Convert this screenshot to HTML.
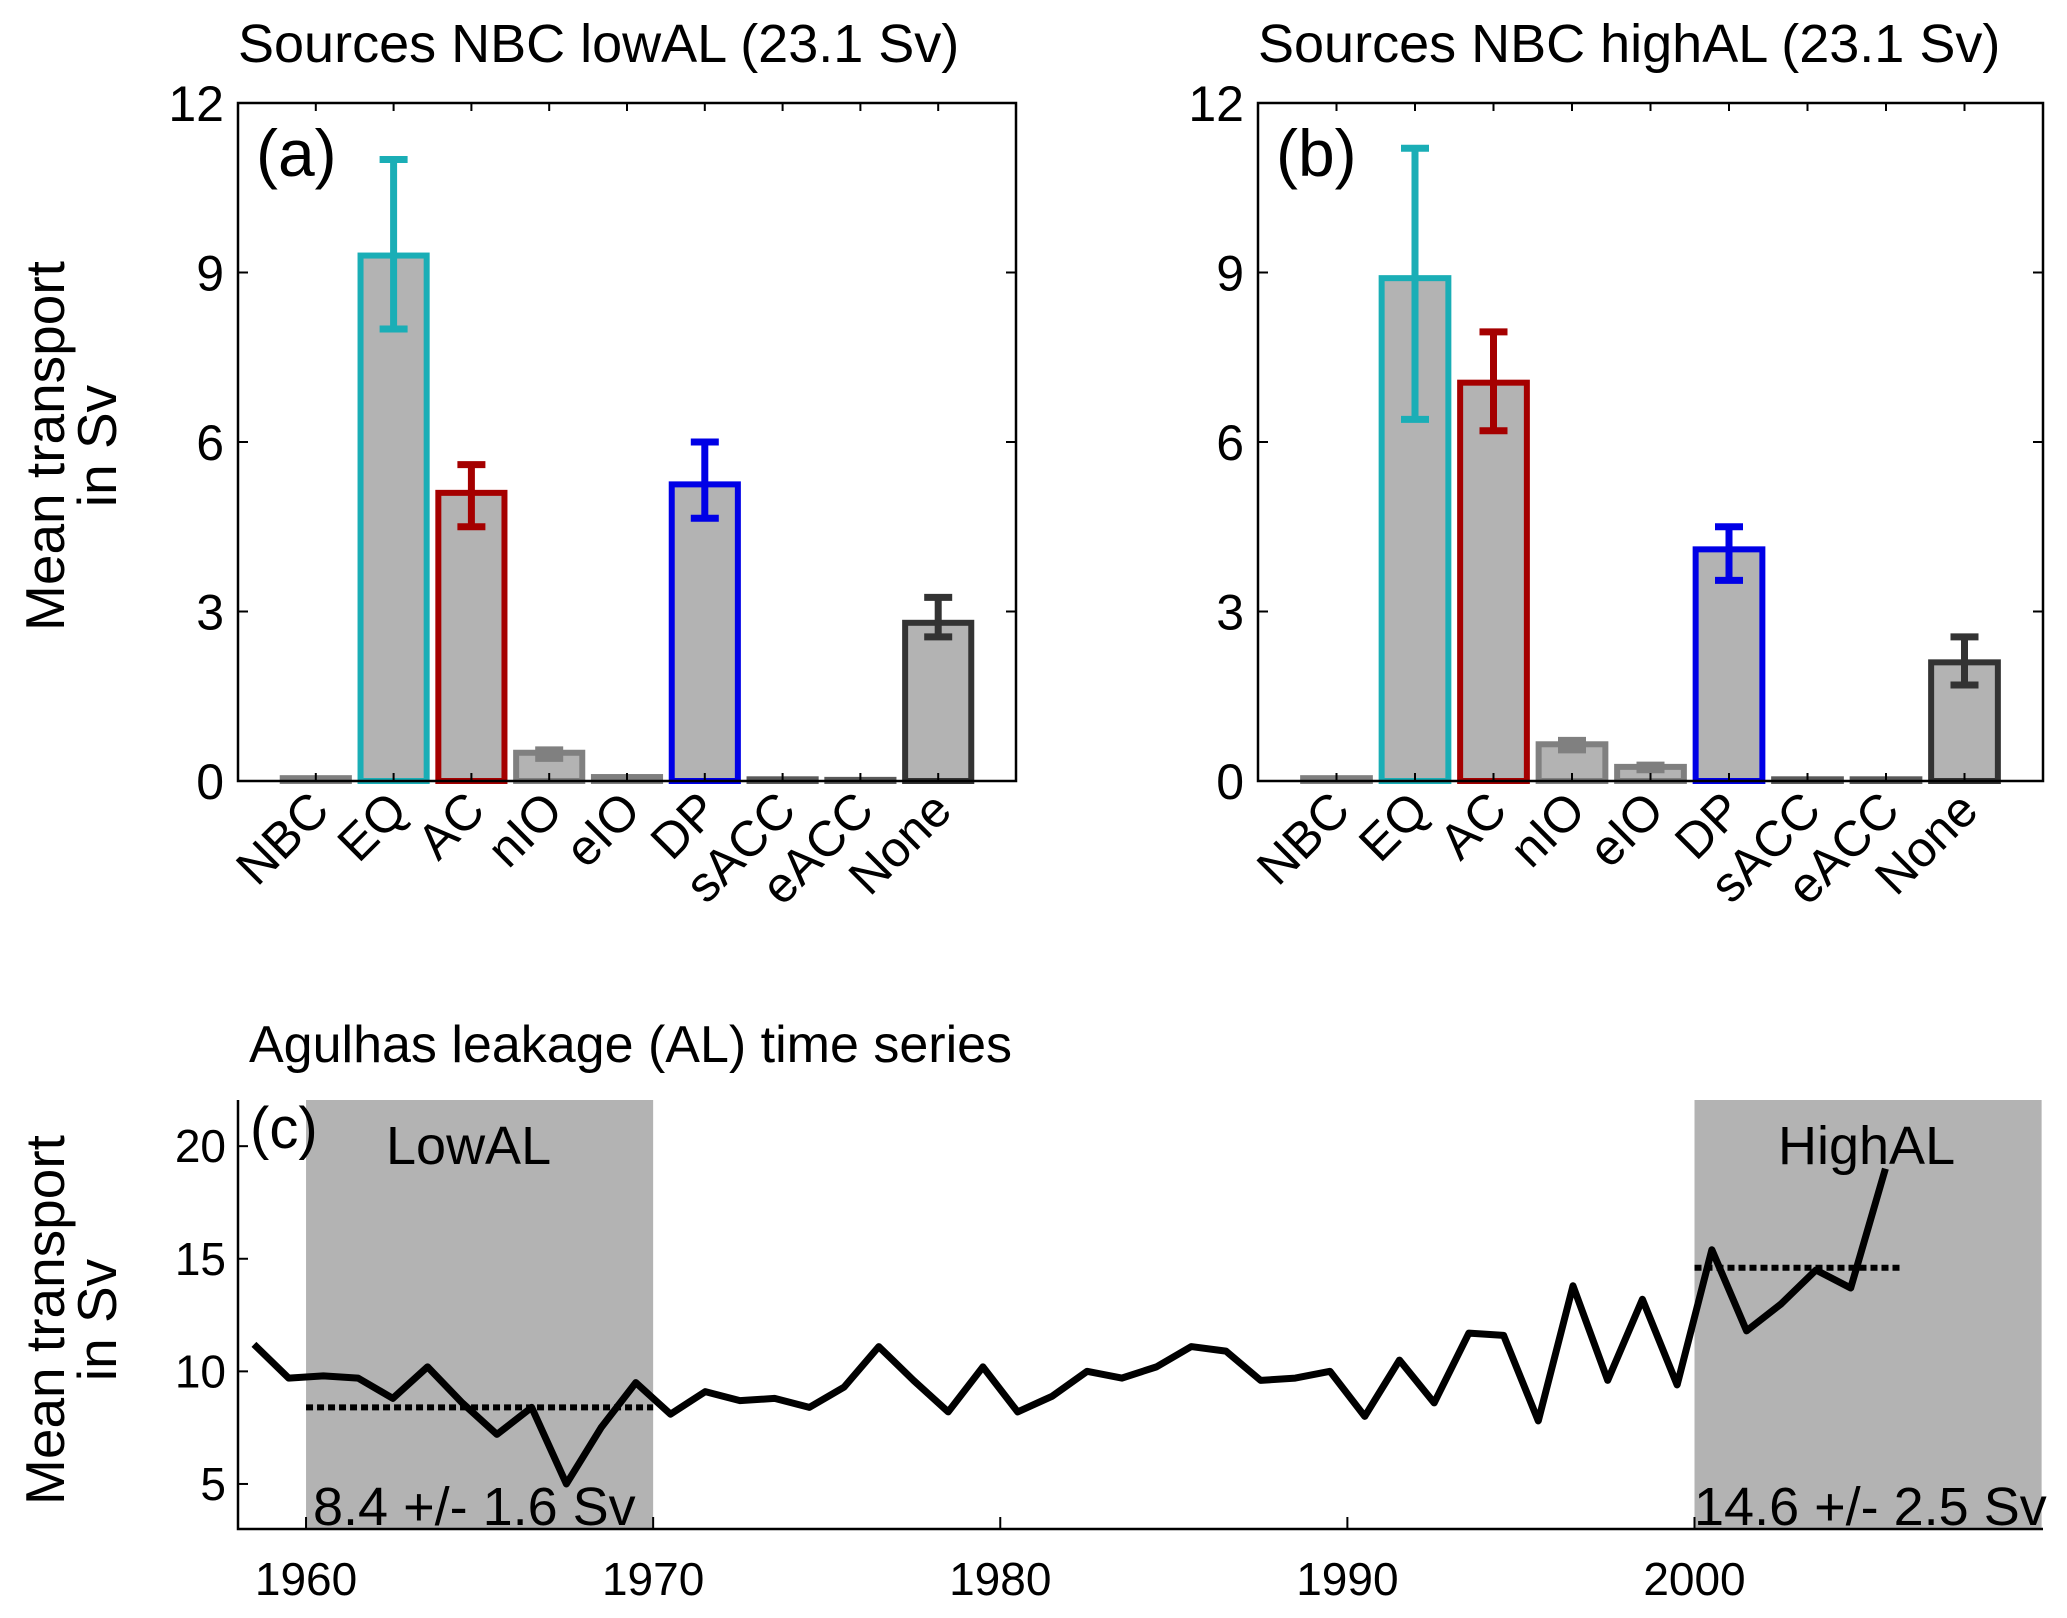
<!DOCTYPE html>
<html><head><meta charset="utf-8"><style>body{margin:0;background:#fff}svg{display:block}text{font-family:"Liberation Sans",sans-serif}</style></head>
<body>
<svg id="fig" width="2067" height="1618" viewBox="0 0 2067 1618" xmlns="http://www.w3.org/2000/svg"></svg>
<script>
const categories=["NBC","EQ","AC","nIO","eIO","DP","sACC","eACC","None"];
const colorsBar=["#7f7f7f","#1aaeb6","#a50000","#808080","#7f7f7f","#0000e6","#5a5a5a","#5a5a5a","#333333"];
const valuesA=[0.05,9.3,5.1,0.5,0.07,5.25,0.03,0.02,2.8];
const errLoA=[null,8.0,4.5,0.4,null,4.65,null,null,2.55];
const errHiA=[null,11.0,5.6,0.55,null,6.0,null,null,3.25];
const valuesB=[0.05,8.9,7.05,0.65,0.25,4.1,0.03,0.03,2.1];
const errLoB=[null,6.4,6.2,0.55,0.2,3.55,null,null,1.7];
const errHiB=[null,11.2,7.95,0.72,0.28,4.5,null,null,2.55];
const yTicksBar=[0,3,6,9,12];
const years=[1958.5,1959.5,1960.5,1961.5,1962.5,1963.5,1964.5,1965.5,1966.5,1967.5,1968.5,1969.5,1970.5,1971.5,1972.5,1973.5,1974.5,1975.5,1976.5,1977.5,1978.5,1979.5,1980.5,1981.5,1982.5,1983.5,1984.5,1985.5,1986.5,1987.5,1988.5,1989.5,1990.5,1991.5,1992.5,1993.5,1994.5,1995.5,1996.5,1997.5,1998.5,1999.5,2000.5,2001.5,2002.5,2003.5,2004.5,2005.5];
const leakage=[11.2,9.7,9.8,9.7,8.8,10.2,8.6,7.2,8.4,5.0,7.5,9.5,8.1,9.1,8.7,8.8,8.4,9.3,11.1,9.6,8.2,10.2,8.2,8.9,10.0,9.7,10.2,11.1,10.9,9.6,9.7,10.0,8.0,10.5,8.6,11.7,11.6,7.8,13.8,9.6,13.2,9.4,15.4,11.8,13.0,14.5,13.7,19.0];
const periods=[[1960,1970],[2000,2010]];
const periodMeans=[[1960,1970,8.4],[2000,2006,14.6]];
const xTicksTS=[1960,1970,1980,1990,2000];
const yTicksTS=[5,10,15,20];

const svg=document.getElementById('fig');const NS="http://www.w3.org/2000/svg";
function mk(tag,attrs,parent,txt){const e=document.createElementNS(NS,tag);for(const k in attrs)e.setAttribute(k,attrs[k]);if(txt!==undefined)e.textContent=txt;(parent||svg).appendChild(e);return e;}

function barPanel(L,R,title,lab,vals,lo,hi,name){
  const T=103,B=781;
  const g=mk('g',{});
  
  
  const x=v=>L+(v/10)*(R-L);const y=v=>B-(v/12)*(B-T);
  const t=mk('text',{x:L,y:62,'font-size':54},g,title);
  
  categories.forEach((c,i)=>{
    const cx=x(i+1),w=(R-L)/10*0.85;
    const r=mk('rect',{x:cx-w/2,y:y(vals[i]),width:w,height:B-y(vals[i]),fill:'#b3b3b3',stroke:colorsBar[i],'stroke-width':6},g);
    
    if(lo[i]!==null){
      const e=mk('path',{d:`M${cx},${y(lo[i])}V${y(hi[i])}M${cx-14},${y(lo[i])}h28M${cx-14},${y(hi[i])}h28`,stroke:colorsBar[i],'stroke-width':7,fill:'none'},g);
      
    }
    mk('path',{d:`M${cx},${T}v8M${cx},${B}v-8`,stroke:'#000','stroke-width':2},g);
    const tl=mk('text',{x:cx+16,y:B+32,'font-size':50,'text-anchor':'end',transform:`rotate(-45 ${cx+16} ${B+32})`},g,c);
    
  });
  yTicksBar.forEach(v=>{
    mk('path',{d:`M${L},${y(v)}h10M${R},${y(v)}h-10`,stroke:'#000','stroke-width':2},g);
    const tl=mk('text',{x:L-14,y:y(v)+18,'font-size':50,'text-anchor':'end'},g,v);
    
  });
  const f=mk('rect',{x:L,y:T,width:R-L,height:B-T,fill:'none',stroke:'#000','stroke-width':2.5},g);
  
  const pl=mk('text',{x:L+18,y:176,'font-size':66},g,lab);
  
}
barPanel(238,1016,"Sources NBC lowAL (23.1 Sv)","(a)",valuesA,errLoA,errHiA,'panel-a');
barPanel(1258,2043,"Sources NBC highAL (23.1 Sv)","(b)",valuesB,errLoB,errHiB,'panel-b');

function ylab(cx,cy,name){
  const t=mk('text',{transform:`translate(${cx},${cy}) rotate(-90)`,'font-size':55,'text-anchor':'middle'});
  
  mk('tspan',{x:0,y:0},t,'Mean transport');mk('tspan',{x:0,y:52},t,'in Sv');
}
ylab(64,446,'y-axis-title-bars');
ylab(64,1320,'y-axis-title-timeseries');

// panel c
(function(){
  const L=238,R=2043,T=1100,B=1529;
  const x=v=>L+(v-1958.04)/52.0*(R-L);const y=v=>B-(v-3)/19.05*(B-T);
  const g=mk('g',{});
  
  
  const t=mk('text',{x:249,y:1062,'font-size':52},g,'Agulhas leakage (AL) time series');
  
  periods.forEach(p=>{
    const r=mk('rect',{x:x(p[0]),y:T,width:Math.min(x(p[1]),R)-x(p[0]),height:B-T,fill:'#b3b3b3'},g);
    
  });
  mk('path',{d:`M${L},${T}V${B}H${R}`,stroke:'#000','stroke-width':2.5,fill:'none'},g);
  xTicksTS.forEach(v=>{
    mk('path',{d:`M${x(v)},${B}v-12`,stroke:'#000','stroke-width':2},g);
    const tl=mk('text',{x:x(v),y:1595,'font-size':46,'text-anchor':'middle'},g,v);
    
  });
  yTicksTS.forEach(v=>{
    mk('path',{d:`M${L},${y(v)}h10`,stroke:'#000','stroke-width':2},g);
    const tl=mk('text',{x:L-12,y:y(v)+16,'font-size':46,'text-anchor':'end'},g,v);
    
  });
  periodMeans.forEach(m=>{
    const d=mk('line',{x1:x(m[0]),x2:x(m[1]),y1:y(m[2]),y2:y(m[2]),stroke:'#000','stroke-width':6,'stroke-dasharray':'7,4'},g);
    
  });
  const ln=mk('polyline',{points:years.map((yr,i)=>x(yr)+','+y(leakage[i])).join(' '),fill:'none',stroke:'#000','stroke-width':7,'stroke-linejoin':'round'},g);
  
  const texts=[['(c)',250,1148,58,'panel-label'],['LowAL',386,1164,54,'lowal-label'],['HighAL',1778,1164,54,'highal-label'],['8.4 +/- 1.6 Sv',313,1525,54,'lowal-mean-label'],['14.6 +/- 2.5 Sv',1694,1525,54,'highal-mean-label']];
  texts.forEach(a=>{const e=mk('text',{x:a[1],y:a[2],'font-size':a[3]},g,a[0]);
    });
})();
</script>
</body></html>
